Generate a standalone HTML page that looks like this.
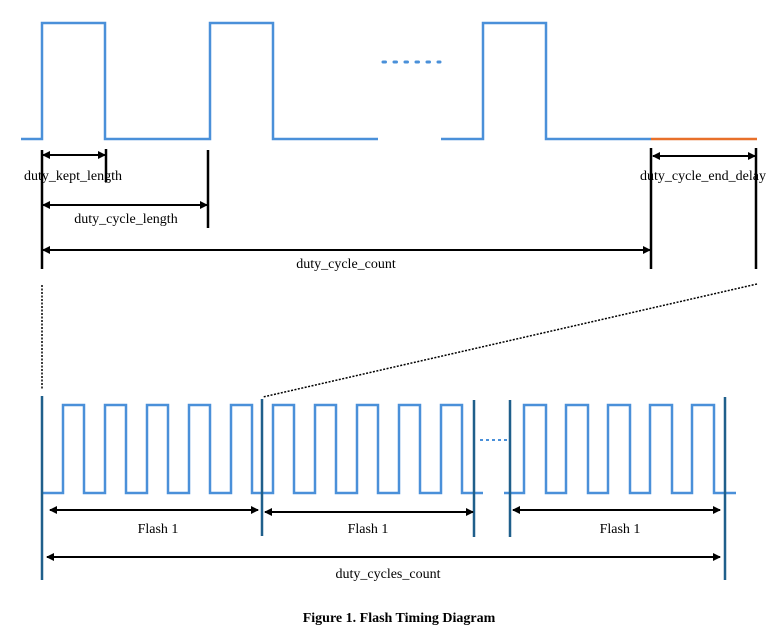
<!DOCTYPE html>
<html><head><meta charset="utf-8"><style>
html,body{margin:0;padding:0;background:#fff;}
svg{display:block;}
text{font-family:"Liberation Serif","Noto Serif CJK SC",serif;font-size:14px;fill:#000;}
</style></head><body>
<svg width="778" height="627" viewBox="0 0 778 627" xmlns="http://www.w3.org/2000/svg">
<defs>
<marker id="a" markerWidth="8" markerHeight="8" refX="7" refY="4" orient="auto" markerUnits="userSpaceOnUse"><path d="M0,0 L8,4 L0,8 z" fill="#000"/></marker>
<marker id="b" markerWidth="8" markerHeight="8" refX="1" refY="4" orient="auto" markerUnits="userSpaceOnUse"><path d="M8,0 L0,4 L8,8 z" fill="#000"/></marker>
</defs>
<g fill="none" stroke="#4a90d9" stroke-width="2.5">
<polyline points="21,139 42,139 42,23 105,23 105,139 210,139 210,23 273,23 273,139 378,139"/>
<polyline points="441,139 483,139 483,23 546,23 546,139 651,139"/>
</g>
<line x1="651" y1="139" x2="757" y2="139" stroke="#e8702a" stroke-width="2.5"/>
<line x1="383" y1="62" x2="440" y2="62" stroke="#4a90d9" stroke-width="3" stroke-dasharray="2.5 8.5" stroke-linecap="round"/>
<g stroke="#000" stroke-width="2.5">
<line x1="42" y1="150" x2="42" y2="269"/>
<line x1="106" y1="149" x2="106" y2="182"/>
<line x1="208" y1="150" x2="208" y2="228"/>
<line x1="651" y1="148" x2="651" y2="269"/>
<line x1="756" y1="148" x2="756" y2="269"/>
</g>
<g stroke="#000" stroke-width="2" marker-start="url(#b)" marker-end="url(#a)">
<line x1="43" y1="155" x2="105" y2="155"/>
<line x1="43" y1="205" x2="207" y2="205"/>
<line x1="43" y1="250" x2="650" y2="250"/>
<line x1="653" y1="156" x2="755" y2="156"/>
</g>
<text x="73" y="180" text-anchor="middle">duty_kept_length</text>
<text x="126" y="223" text-anchor="middle">duty_cycle_length</text>
<text x="346" y="268" text-anchor="middle">duty_cycle_count</text>
<text x="703" y="180" text-anchor="middle">duty_cycle_end_delay</text>
<g stroke="#000" stroke-width="1.5" stroke-dasharray="2 1.5">
<line x1="42" y1="285" x2="42" y2="390"/>
<line x1="757" y1="284" x2="263" y2="397"/>
</g>
<g fill="none" stroke="#4a90d9" stroke-width="2.5">
<polyline points="42,493 63,493 63,405 84,405 84,493 105,493 105,405 126,405 126,493 147,493 147,405 168,405 168,493 189,493 189,405 210,405 210,493 231,493 231,405 252,405 252,493 273,493 273,405 294,405 294,493 315,493 315,405 336,405 336,493 357,493 357,405 378,405 378,493 399,493 399,405 420,405 420,493 441,493 441,405 462,405 462,493 483,493"/>
<polyline points="504,493 524,493 524,405 546,405 546,493 566,493 566,405 588,405 588,493 608,493 608,405 630,405 630,493 650,493 650,405 672,405 672,493 692,493 692,405 714,405 714,493 736,493"/>
</g>
<line x1="480" y1="440" x2="509" y2="440" stroke="#4a90d9" stroke-width="2" stroke-dasharray="3 3"/>
<g stroke="#1f5f8b" stroke-width="2.5">
<line x1="42" y1="396" x2="42" y2="580"/>
<line x1="262" y1="399" x2="262" y2="536"/>
<line x1="474" y1="400" x2="474" y2="537"/>
<line x1="510" y1="400" x2="510" y2="537"/>
<line x1="725" y1="397" x2="725" y2="580"/>
</g>
<g stroke="#000" stroke-width="2" marker-start="url(#b)" marker-end="url(#a)">
<line x1="50" y1="510" x2="258" y2="510"/>
<line x1="265" y1="512" x2="473" y2="512"/>
<line x1="513" y1="510" x2="720" y2="510"/>
<line x1="47" y1="557" x2="720" y2="557"/>
</g>
<text x="158" y="533" text-anchor="middle">Flash 1</text>
<text x="368" y="533" text-anchor="middle">Flash 1</text>
<text x="620" y="533" text-anchor="middle">Flash 1</text>
<text x="388" y="578" text-anchor="middle">duty_cycles_count</text>
<text x="399" y="622" text-anchor="middle" style="font-weight:bold;font-size:14px">Figure 1. Flash Timing Diagram</text>
</svg>
</body></html>
